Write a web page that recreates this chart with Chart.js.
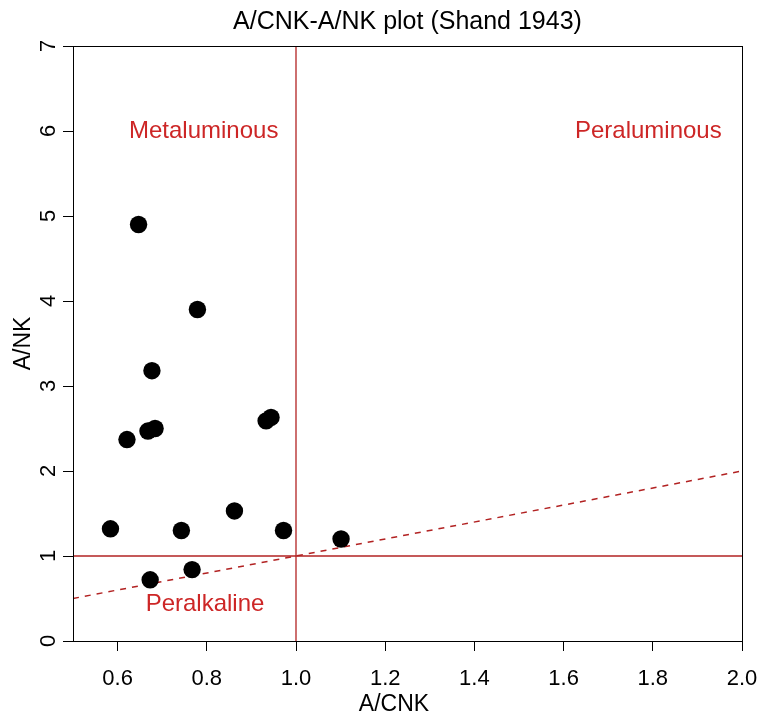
<!DOCTYPE html>
<html><head><meta charset="utf-8">
<script src="https://cdn.jsdelivr.net/npm/chart.js@4/dist/chart.umd.min.js"></script>
<style>html,body{margin:0;padding:0;background:#fff}</style>
</head><body>
<canvas id="c" width="765" height="719"></canvas>
<script>
const acnk = [0.647, 0.779, 0.677, 0.621, 0.668, 0.684, 0.933, 0.944, 0.584, 0.743, 0.862, 0.972, 1.101, 0.673, 0.767];
const ank  = [4.90, 3.90, 3.18, 2.37, 2.47, 2.50, 2.59, 2.63, 1.32, 1.30, 1.53, 1.30, 1.20, 0.72, 0.84];
const xTicks = [0.6, 0.8, 1.0, 1.2, 1.4, 1.6, 1.8, 2.0];
const yTicks = [0, 1, 2, 3, 4, 5, 6, 7];
const xRange = [0.5, 2.0];
const yRange = [0, 7];
const regionLabels = ['Metaluminous', 'Peraluminous', 'Peralkaline'];
const regionX = [0.793, 1.79, 0.796];
const regionY = [6.0, 6.0, 0.43];
const vLine = [{x: 1, y: 0}, {x: 1, y: 7}];
const hLine = [{x: 0.5, y: 1}, {x: 2, y: 1}];
const diagLine = [{x: 0.5, y: 0.5}, {x: 2, y: 2}];
const xTitle = 'A/CNK';

const FONT = '"Liberation Sans", Arial, Helvetica, sans-serif';
const lineRed = '#B22222';
const textRed = '#CD2626';

const pts = acnk.map((x, i) => ({x, y: ank[i]}));

const extras = {
  id: 'extras',
  afterDatasetsDraw(chart) {
    const {ctx, chartArea: a, scales: {x, y}} = chart;
    ctx.save();
    ctx.fillStyle = textRed;
    ctx.font = '24px ' + FONT;
    ctx.textAlign = 'center';
    ctx.textBaseline = 'middle';
    regionLabels.forEach((t, i) => {
      ctx.fillText(t, x.getPixelForValue(regionX[i]), y.getPixelForValue(regionY[i]));
    });
    ctx.strokeStyle = '#000';
    ctx.lineWidth = 1;
    ctx.strokeRect(Math.round(a.left) + 0.5, Math.round(a.top) + 0.5, Math.round(a.right - a.left), Math.round(a.bottom - a.top));
    // x-axis title
    ctx.fillStyle = '#000';
    ctx.font = '23px ' + FONT;
    ctx.fillText(xTitle, (a.left + a.right) / 2 - 13.5, 705);
    ctx.restore();
  }
};

new Chart(document.getElementById('c'), {
  type: 'scatter',
  data: {
    datasets: [
      {data: pts, backgroundColor: '#000', borderColor: '#000', borderWidth: 0, pointRadius: 8.7, pointHoverRadius: 8.7, order: 0},
      {type: 'line', data: vLine, borderColor: lineRed, borderWidth: 1.3, pointRadius: 0, fill: false, order: 1},
      {type: 'line', data: hLine, borderColor: lineRed, borderWidth: 1.3, pointRadius: 0, fill: false, order: 1},
      {type: 'line', data: diagLine, borderColor: lineRed, borderWidth: 1.5, borderDash: [6, 6], pointRadius: 0, fill: false, order: 1}
    ]
  },
  options: {
    responsive: false,
    animation: false,
    devicePixelRatio: 1,
    events: [],
    layout: {padding: {left: 0, right: 23, top: 0, bottom: 0}},
    plugins: {
      legend: {display: false},
      tooltip: {enabled: false},
      title: {
        display: true,
        fullSize: false,
        text: 'A/CNK-A/NK plot (Shand 1943)',
        color: '#000',
        font: {family: FONT, size: 25, weight: 'normal'},
        padding: {top: 7.5, bottom: 8.5}
      }
    },
    scales: {
      x: {
        type: 'linear',
        min: xRange[0], max: xRange[1],
        afterBuildTicks(s) { s.ticks = xTicks.map(v => ({value: v})); },
        afterFit(s) { s.height = 78; s.paddingLeft = 0; s.paddingRight = 0; },
        grid: {drawOnChartArea: false, drawTicks: true, tickLength: 10, color: '#000', tickWidth: 1},
        border: {display: true, color: '#000', width: 1},
        ticks: {color: '#000', font: {family: FONT, size: 22}, padding: 15, maxRotation: 0,
                callback: v => v.toFixed(1)},
        title: {display: false}
      },
      y: {
        type: 'linear',
        min: yRange[0], max: yRange[1],
        afterBuildTicks(s) { s.ticks = yTicks.map(v => ({value: v})); },
        afterFit(s) { s.width = 73; s.paddingTop = 0; s.paddingBottom = 0; },
        grid: {drawOnChartArea: false, drawTicks: true, tickLength: 10, color: '#000', tickWidth: 1},
        border: {display: true, color: '#000', width: 1},
        ticks: {color: '#000', font: {family: FONT, size: 22}, padding: 8, minRotation: 90, maxRotation: 90,
                crossAlign: 'center', callback: v => String(v)},
        title: {display: true, text: 'A/NK', color: '#000', font: {family: FONT, size: 23}, padding: {top: 10, bottom: 0}}
      }
    }
  },
  plugins: [extras]
});
</script>
</body></html>
